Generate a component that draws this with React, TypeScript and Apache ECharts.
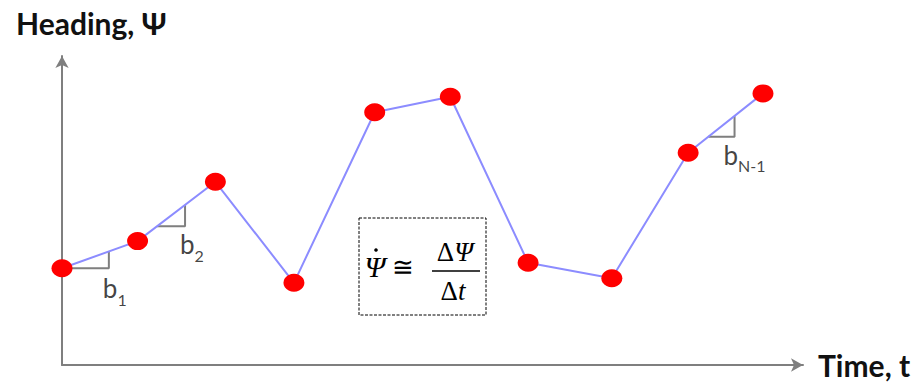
import React, { useEffect, useRef } from 'react';
import * as echarts from 'echarts';

// Sampled heading values over time
const times = [0, 1.02, 2.07, 3.13, 4.22, 5.24, 6.29, 7.42, 8.45, 9.46];
const headings = [3.13, 4.01, 5.93, 2.66, 8.18, 8.68, 3.31, 2.81, 6.87, 8.79];

// Slope markers: which segment, and the fraction span along it
const slopeSegments = [0, 1, 8];
const slopeSpans = [
  [0, 0.62],
  [0.25, 0.61],
  [0.27, 0.62],
];
const slopeSubscripts = ['1', '2', 'N-1'];

const xTitle = 'Time, t';
const yTitle = 'Heading, Ψ';

const AXIS_GRAY = '#7f7f7f';
const LINE_BLUE = '#8c8cff';
const DOT_RED = '#ff0000';
const TEXT_DARK = '#111111';
const TITLE_FONT = 'Lato, "Open Sans", sans-serif';
const MATH_FONT = '"Liberation Serif", "DejaVu Serif", serif';

export default function App() {
  const ref = useRef<HTMLDivElement>(null);

  useEffect(() => {
    document.body.style.margin = '0';
    const chart = echarts.init(ref.current!, null, { renderer: 'svg' });

    const points = times.map((t, i) => [t, headings[i]]);
    const along = (seg: number, f: number) => [
      times[seg] + f * (times[seg + 1] - times[seg]),
      headings[seg] + f * (headings[seg + 1] - headings[seg]),
    ];
    const triangles = slopeSegments.map((seg, k) => {
      const a = along(seg, slopeSpans[k][0]);
      const b = along(seg, slopeSpans[k][1]);
      return [a, [b[0], a[1]], b];
    });
    const labelOffsets = [
      [-6, 7],
      [-5, 5],
      [-11, 5],
    ];

    const option: echarts.EChartsOption = {
      animation: false,
      backgroundColor: '#ffffff',
      title: {
        text: yTitle,
        left: 11,
        top: 3,
        textStyle: {
          fontFamily: TITLE_FONT,
          fontWeight: 'bold',
          fontSize: 30,
          color: TEXT_DARK,
        },
      },
      grid: { left: 62, right: 117, top: 56, bottom: 20 },
      xAxis: {
        type: 'value',
        min: 0,
        max: 10,
        name: xTitle,
        nameLocation: 'end',
        nameGap: 15,
        nameTextStyle: {
          fontFamily: TITLE_FONT,
          fontWeight: 'bold',
          fontSize: 30,
          color: TEXT_DARK,
          padding: [0, 0, 4, 0],
        },
        axisLine: {
          lineStyle: { color: AXIS_GRAY, width: 2 },
          symbol: ['none', 'arrow'],
          symbolSize: [10, 12],
        },
        axisTick: { show: false },
        axisLabel: { show: false },
        splitLine: { show: false },
      },
      yAxis: {
        type: 'value',
        min: 0,
        max: 10,
        axisLine: {
          show: true,
          lineStyle: { color: AXIS_GRAY, width: 2 },
          symbol: ['none', 'arrow'],
          symbolSize: [10, 12],
        },
        axisTick: { show: false },
        axisLabel: { show: false },
        splitLine: { show: false },
      },
      series: [
        ...triangles.map((tri) => ({
          type: 'line' as const,
          data: tri,
          symbol: 'none',
          silent: true,
          z: 1,
          lineStyle: { color: AXIS_GRAY, width: 2 },
        })),
        {
          type: 'line',
          data: points,
          symbol: 'circle',
          symbolSize: [21, 18],
          z: 3,
          itemStyle: { color: DOT_RED },
          lineStyle: { color: LINE_BLUE, width: 2 },
        },
        {
          type: 'scatter',
          symbolSize: 0,
          silent: true,
          z: 4,
          data: triangles.map((tri, k) => ({
            value: tri[1],
            label: {
              position: labelOffsets[k],
              formatter: `{b|b}{s|${slopeSubscripts[k]}}`,
            },
          })),
          label: {
            show: true,
            align: 'left',
            verticalAlign: 'top',
            rich: {
              b: {
                fontFamily: TITLE_FONT,
                fontSize: 26,
                lineHeight: 32,
                color: TEXT_DARK,
                verticalAlign: 'top',
              },
              s: {
                fontFamily: TITLE_FONT,
                fontSize: 16,
                lineHeight: 16,
                color: TEXT_DARK,
                verticalAlign: 'bottom',
              },
            },
          },
        },
      ],
      graphic: [
        {
          type: 'group',
          children: [
            {
              type: 'rect',
              shape: { x: 359, y: 218, width: 127, height: 97 },
              style: { fill: '#ffffff', stroke: '#000000', lineWidth: 1, lineDash: [3, 1.5] },
            },
            {
              type: 'text',
              x: 375,
              y: 266,
              style: {
                text: 'Ψ',
                font: `italic 30px ${MATH_FONT}`,
                fill: '#000',
                align: 'center',
                verticalAlign: 'middle',
              },
            },
            {
              type: 'circle',
              shape: { cx: 376, cy: 250, r: 1.8 },
              style: { fill: '#000' },
            },
            {
              type: 'text',
              x: 403,
              y: 267,
              style: {
                text: '≅',
                font: `26px ${MATH_FONT}`,
                fill: '#000',
                align: 'center',
                verticalAlign: 'middle',
              },
            },
            {
              type: 'text',
              x: 455,
              y: 252,
              style: {
                text: '{u|Δ}{i|Ψ}',
                align: 'center',
                verticalAlign: 'middle',
                rich: {
                  u: { font: `27px ${MATH_FONT}`, fill: '#000' },
                  i: { font: `italic 27px ${MATH_FONT}`, fill: '#000' },
                },
              },
            },
            {
              type: 'line',
              shape: { x1: 432, y1: 271, x2: 480, y2: 271 },
              style: { stroke: '#000', lineWidth: 1.5 },
            },
            {
              type: 'text',
              x: 453,
              y: 291,
              style: {
                text: '{u|Δ}{i|t}',
                align: 'center',
                verticalAlign: 'middle',
                rich: {
                  u: { font: `27px ${MATH_FONT}`, fill: '#000' },
                  i: { font: `italic 27px ${MATH_FONT}`, fill: '#000' },
                },
              },
            },
          ],
        },
      ],
    };

    chart.setOption(option);
    return () => chart.dispose();
  }, []);

  return <div ref={ref} style={{ width: 920, height: 385 }} />;
}
